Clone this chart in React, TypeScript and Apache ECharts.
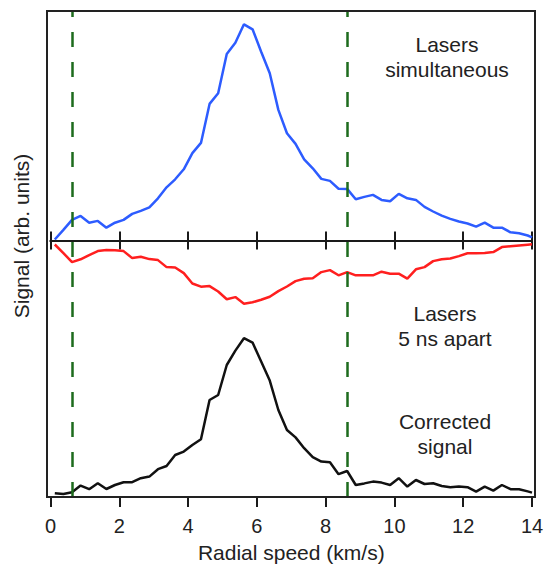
import React, { useEffect, useRef } from "react";
import * as echarts from "echarts";

// Radial speed (km/s) of each sample
const speedKmS = [
  0.125, 0.375, 0.625, 0.875, 1.125, 1.375, 1.625, 1.875, 2.125, 2.375,
  2.625, 2.875, 3.125, 3.375, 3.625, 3.875, 4.125, 4.375, 4.625, 4.875,
  5.125, 5.375, 5.625, 5.875, 6.125, 6.375, 6.625, 6.875, 7.125, 7.375,
  7.625, 7.875, 8.125, 8.375, 8.625, 8.875, 9.125, 9.375, 9.625, 9.875,
  10.125, 10.375, 10.625, 10.875, 11.125, 11.375, 11.625, 11.875, 12.125, 12.375,
  12.625, 12.875, 13.125, 13.375, 13.625, 13.875, 14.0,
];

// Signal (arb. units), lasers simultaneous (above the middle axis)
const lasersSimultaneous = [
  0.5, 5.3, 10.3, 12.3, 8.9, 9.8, 6.4, 8.9, 10.3, 13.3,
  14.8, 16.6, 21.1, 26.6, 30.6, 35.6, 43.7, 48.8, 68.3, 73.6,
  93.3, 98.9, 108.1, 105.6, 94.4, 83.6, 65.3, 53.6, 48.3, 40.6,
  36.1, 30.8, 29.8, 25.9, 25.8, 20.6, 21.8, 22.8, 20.3, 19.6,
  23.3, 21.1, 20.3, 16.8, 14.5, 12.4, 10.8, 9.5, 8.5, 6.9,
  8.9, 6.4, 6.4, 4.1, 3.6, 2.5, 1.6,
];

// Signal (arb. units), lasers 5 ns apart (below the middle axis)
const lasers5nsApart = [
  -2.0, -6.3, -10.8, -9.4, -7.3, -5.3, -4.8, -4.9, -5.3, -8.8,
  -8.1, -9.3, -9.8, -13.3, -13.5, -16.3, -21.5, -23.1, -22.8, -25.5,
  -29.4, -28.3, -31.6, -30.9, -29.6, -28.1, -25.3, -23.0, -20.3, -19.1,
  -18.9, -15.8, -14.8, -17.4, -15.8, -17.4, -17.4, -17.4, -15.6, -16.6,
  -16.6, -19.1, -14.4, -13.3, -10.3, -9.4, -9.0, -7.8, -6.4, -6.4,
  -6.3, -5.8, -3.3, -2.9, -2.5, -2.1, -1.9,
];

// Corrected signal (arb. units), on its own baseline at the bottom
const correctedSignal = [
  1.9, 1.5, 2.4, 5.7, 3.9, 6.9, 4.0, 6.0, 7.4, 7.4,
  9.4, 10.2, 13.9, 15.5, 21.0, 22.7, 26.0, 28.9, 48.5, 51.0,
  66.0, 73.2, 79.4, 77.2, 67.7, 58.2, 43.5, 33.5, 29.8, 24.4,
  19.9, 17.7, 17.4, 11.4, 13.0, 6.0, 6.8, 7.7, 7.2, 6.0,
  9.4, 5.2, 8.5, 6.5, 6.9, 5.5, 4.9, 5.2, 4.9, 2.7,
  5.2, 3.2, 6.0, 3.9, 3.9, 2.8, 2.2,
];

// Vertical dashed markers (km/s)
const markerSpeeds = [0.625, 8.625];

const annotations = [
  { text: "Lasers\nsimultaneous", x: 447, y: 57 },
  { text: "Lasers\n5 ns apart", x: 445, y: 326 },
  { text: "Corrected\nsignal", x: 445, y: 434 },
];

export default function App() {
  const ref = useRef<HTMLDivElement>(null);

  useEffect(() => {
    if (!ref.current) return;
    const chart = echarts.init(ref.current, null, { renderer: "svg" });
    const font = "'Liberation Sans', Arial, sans-serif";
    const ink = "#1a1a1a";
    const pair = (ys: number[]) => speedKmS.map((x, i) => [x, ys[i]]);
    const xBase = { type: "value", min: 0, max: 14, interval: 2, gridIndex: 0, splitLine: { show: false } };

    chart.setOption({
      animation: false,
      grid: { left: 50.5, right: 12, top: 11, bottom: 67, outerBoundsMode: "none" },
      xAxis: [
        {
          ...xBase,
          position: "bottom",
          axisLine: { show: false, onZero: false },
          axisTick: { show: true, length: 10, lineStyle: { color: ink, width: 2 } },
          axisLabel: { fontSize: 20, color: "#222", margin: 19, fontFamily: font },
          name: "Radial speed (km/s)",
          nameLocation: "middle",
          nameGap: 45,
          nameTextStyle: { fontSize: 21, color: "#222", fontFamily: font },
        },
        {
          ...xBase,
          position: "bottom",
          axisLine: { show: true, onZero: true, onZeroAxisIndex: 0, lineStyle: { color: ink, width: 2 } },
          axisTick: { show: true, length: 9, lineStyle: { color: ink, width: 2 } },
          axisLabel: { show: false },
        },
        {
          ...xBase,
          position: "bottom",
          axisLine: { show: true, onZero: true, onZeroAxisIndex: 0, lineStyle: { color: ink, width: 2 } },
          axisTick: { show: true, inside: true, length: 9, lineStyle: { color: ink, width: 2 } },
          axisLabel: { show: false },
        },
      ],
      yAxis: [
        { type: "value", gridIndex: 0, min: -128.25, max: 114.75, show: false },
        { type: "value", gridIndex: 0, min: 0, max: 243, show: false },
      ],
      series: [
        {
          name: "Lasers simultaneous",
          type: "line",
          xAxisIndex: 0,
          yAxisIndex: 0,
          data: pair(lasersSimultaneous),
          symbol: "none",
          lineStyle: { color: "#2d5cff", width: 2.5 },
          z: 3,
          markLine: {
            silent: true,
            symbol: ["none", "none"],
            label: { show: false },
            lineStyle: { color: "#1d6b1d", width: 2.5, type: [15, 15] },
            data: markerSpeeds.map((x) => ({ xAxis: x })),
          },
        },
        {
          name: "Lasers 5 ns apart",
          type: "line",
          xAxisIndex: 0,
          yAxisIndex: 0,
          data: pair(lasers5nsApart),
          symbol: "none",
          lineStyle: { color: "#ff1f1f", width: 2.5 },
          z: 3,
        },
        {
          name: "Corrected signal",
          type: "line",
          xAxisIndex: 0,
          yAxisIndex: 1,
          data: pair(correctedSignal),
          symbol: "none",
          lineStyle: { color: "#111111", width: 2.5 },
          z: 3,
        },
      ],
      graphic: [
        {
          type: "rect",
          shape: { x: 47, y: 11, width: 488, height: 486 },
          style: { fill: "none", stroke: "#222", lineWidth: 2 },
          z: 10,
          silent: true,
        },
        {
          type: "text",
          x: 21,
          y: 236,
          rotation: Math.PI / 2,
          style: {
            text: "Signal (arb. units)",
            fontSize: 21,
            fontFamily: font,
            fill: "#222",
            textAlign: "center",
            textVerticalAlign: "middle",
          },
        },
        ...annotations.map((a) => ({
          type: "text",
          x: a.x,
          y: a.y,
          style: {
            text: a.text,
            fontSize: 21,
            lineHeight: 25,
            fontFamily: font,
            fill: "#222",
            textAlign: "center",
            textVerticalAlign: "middle",
          },
        })),
      ],
    });

    return () => chart.dispose();
  }, []);

  return <div ref={ref} style={{ position: "absolute", left: 0, top: 0, width: 544, height: 564 }} />;
}
